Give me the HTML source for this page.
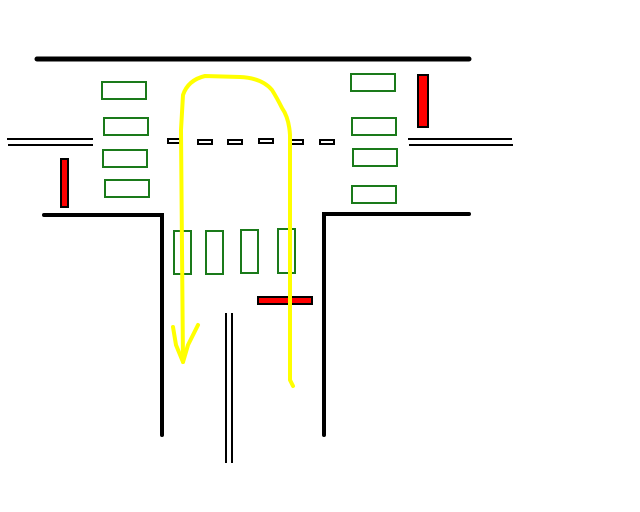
<!DOCTYPE html>
<html><head><style>html,body{margin:0;padding:0;background:#fff}svg{display:block}</style></head>
<body>
<svg width="640" height="512" viewBox="0 0 640 512" xmlns="http://www.w3.org/2000/svg">
<rect width="640" height="512" fill="#fff"/>
<g stroke="#000" stroke-linecap="round" fill="none">
<line x1="37" y1="59" x2="469" y2="59" stroke-width="5"/>
<polyline points="44,215 162,215 162,435" stroke-width="4"/>
<polyline points="324,435 324,214 469,214" stroke-width="4"/>
<g stroke-width="2" stroke-linecap="butt">
<line x1="7" y1="139" x2="93" y2="139"/>
<line x1="8" y1="145" x2="93" y2="145"/>
<line x1="408" y1="139" x2="512" y2="139"/>
<line x1="409" y1="145" x2="513" y2="145"/>
<line x1="226" y1="313" x2="226" y2="463"/>
<line x1="232" y1="313" x2="232" y2="463"/>
</g>
</g>
<g fill="#fff" stroke="#000" stroke-width="2">
<rect x="168" y="139" width="12" height="4"/>
<rect x="198" y="140" width="14" height="4"/>
<rect x="228" y="140" width="14" height="4"/>
<rect x="259" y="139" width="14" height="4"/>
<rect x="289" y="140" width="14" height="4"/>
<rect x="320" y="140" width="14" height="4"/>
</g>
<g fill="none" stroke="#1a7a1a" stroke-width="2">
<rect x="102" y="82" width="44" height="17"/>
<rect x="104" y="118" width="44" height="17"/>
<rect x="103" y="150" width="44" height="17"/>
<rect x="105" y="180" width="44" height="17"/>
<rect x="351" y="74" width="44" height="17"/>
<rect x="352" y="118" width="44" height="17"/>
<rect x="353" y="149" width="44" height="17"/>
<rect x="352" y="186" width="44" height="17"/>
<rect x="174" y="231" width="17" height="43"/>
<rect x="206" y="231" width="17" height="43"/>
<rect x="241" y="230" width="17" height="43"/>
<rect x="278" y="229" width="17" height="44"/>
</g>
<g fill="#f00" stroke="#000" stroke-width="2">
<rect x="61" y="159" width="7" height="48"/>
<rect x="418" y="75" width="10" height="52"/>
<rect x="258" y="297" width="54" height="7"/>
</g>
<g fill="none" stroke="#ffff00" stroke-width="4" stroke-linecap="round" stroke-linejoin="round">
<path d="M293,386 L290,380 L290,300 L290,135 Q289,118 282,108 Q277,98 272,90 Q262,78 240,77 L205,76 Q188,80 183,95 L181,130 L182,250 L183,362"/>
<path d="M173,327 L176,345 L183,362 L188,345 L198,325"/>
</g>
</svg>
</body></html>
